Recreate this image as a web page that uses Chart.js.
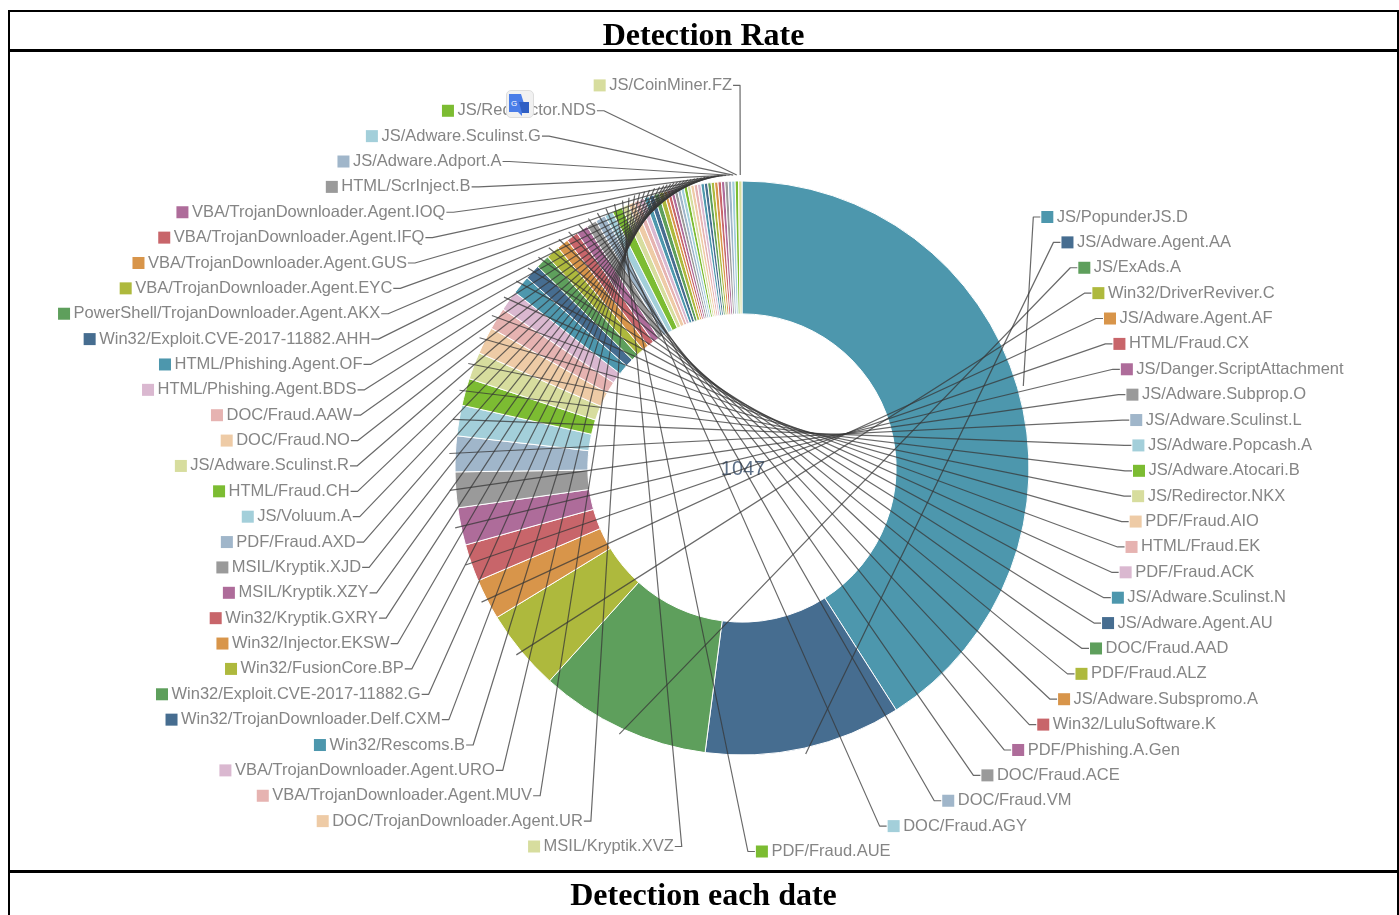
<!DOCTYPE html>
<html>
<head>
<meta charset="utf-8">
<title>Detection Rate</title>
<script src="https://cdn.jsdelivr.net/npm/chart.js@4"></script>
<style>
html,body{margin:0;padding:0;background:#fff;width:1399px;height:915px;overflow:hidden}
#c{position:absolute;left:0;top:0}
.line{position:absolute;background:#000}
.title{position:absolute;left:9px;width:1389px;text-align:center;font:bold 32px "Liberation Serif",serif;color:#000;line-height:38px}
#icon{position:absolute;left:506px;top:90px;width:26px;height:26px;border:1px solid #ddd;border-radius:5px;background:#f1f1f1}
</style>
</head>
<body>
<canvas id="c" width="1399" height="915"></canvas>
<div class="line" style="left:8px;top:10px;width:1391px;height:2px"></div>
<div class="line" style="left:8px;top:49px;width:1391px;height:3px"></div>
<div class="line" style="left:8px;top:870px;width:1391px;height:3px"></div>
<div class="line" style="left:8px;top:10px;width:2px;height:905px"></div>
<div class="line" style="left:1397px;top:10px;width:2px;height:905px"></div>
<div class="title" style="top:15px">Detection Rate</div>
<div class="title" style="top:875px">Detection each date</div>
<div id="icon"><svg width="26" height="26" viewBox="0 0 26 26"><path d="M2 3h12l6 19-5-1v4l-4-4H2z" fill="#4a7de8"/><path d="M12 11h10v11H15z" fill="#2f5fc4"/><text x="4" y="15" font-size="8" fill="#fff" font-family="Liberation Sans">G</text></svg></div>
<script>
const names = [
"JS/PopunderJS.D","JS/Adware.Agent.AA","JS/ExAds.A","Win32/DriverReviver.C","JS/Adware.Agent.AF","HTML/Fraud.CX",
"JS/Danger.ScriptAttachment","JS/Adware.Subprop.O","JS/Adware.Sculinst.L","JS/Adware.Popcash.A","JS/Adware.Atocari.B",
"JS/Redirector.NKX","PDF/Fraud.AIO","HTML/Fraud.EK","PDF/Fraud.ACK","JS/Adware.Sculinst.N","JS/Adware.Agent.AU",
"DOC/Fraud.AAD","PDF/Fraud.ALZ","JS/Adware.Subspromo.A","Win32/LuluSoftware.K","PDF/Phishing.A.Gen","DOC/Fraud.ACE",
"DOC/Fraud.VM","DOC/Fraud.AGY","PDF/Fraud.AUE","MSIL/Kryptik.XVZ","DOC/TrojanDownloader.Agent.UR",
"VBA/TrojanDownloader.Agent.MUV","VBA/TrojanDownloader.Agent.URO","Win32/Rescoms.B","Win32/TrojanDownloader.Delf.CXM",
"Win32/Exploit.CVE-2017-11882.G","Win32/FusionCore.BP","Win32/Injector.EKSW","Win32/Kryptik.GXRY","MSIL/Kryptik.XZY",
"MSIL/Kryptik.XJD","PDF/Fraud.AXD","JS/Voluum.A","HTML/Fraud.CH","JS/Adware.Sculinst.R","DOC/Fraud.NO","DOC/Fraud.AAW",
"HTML/Phishing.Agent.BDS","HTML/Phishing.Agent.OF","Win32/Exploit.CVE-2017-11882.AHH",
"PowerShell/TrojanDownloader.Agent.AKX","VBA/TrojanDownloader.Agent.EYC","VBA/TrojanDownloader.Agent.GUS",
"VBA/TrojanDownloader.Agent.IFQ","VBA/TrojanDownloader.Agent.IOQ","HTML/ScrInject.B","JS/Adware.Adport.A",
"JS/Adware.Sculinst.G","JS/Redirector.NDS","JS/CoinMiner.FZ"
];
const detections = [
429,116,101,48,24,22,22,21,21,18,16,16,16,13,12,11,9,8,8,7,7,7,6,6,5,6,
4,4,3,3,3,3,3,3,2,2,2,2,2,2,
2,2,2,2,2,2,2,2,2,2,2,2,2,2,2,2,2
];
const palette = ["#4d97ad","#466d90","#5e9f5c","#aeb93d","#d8954a","#c8656a","#ae6c9a","#9a9a9a",
"#a0b6ca","#a3cfda","#7cbc32","#d7dd9e","#eecba6","#e6b3b1","#dab8d0"];
const totalLabel = "1047";
const rightCount = 26;

const calloutPlugin = {
  id: "callouts",
  afterDatasetsDraw(chart) {
    const ctx = chart.ctx, arcs = chart.getDatasetMeta(0).data;
    const cx = arcs[0].x, cy = arcs[0].y, outer = arcs[0].outerRadius;
    const b = outer + 96.2, tip = outer + 6, p = 2.05;
    ctx.save();
    // centre total
    ctx.font = '20px "Liberation Sans"';
    ctx.fillStyle = "#5d7088";
    ctx.textAlign = "center"; ctx.textBaseline = "middle";
    ctx.fillText(totalLabel, cx + 1, cy + 1);
    ctx.font = '16.5px "Liberation Sans"';
    ctx.textBaseline = "middle";
    ctx.lineJoin = "round";
    names.forEach((name, i) => {
      const right = i < rightCount;
      const a = outer + (right ? 104 : 106);
      const ry = right ? 216.5 + 25.38 * i : 846 - 25.37 * (i - rightCount);
      const y = ry + 0.5;
      const t = Math.max(0, 1 - Math.pow(Math.abs(ry - cy) / b, p));
      const dx = a * Math.pow(t, 1 / p);
      const x = right ? cx + dx : cx - dx;
      const mid = (arcs[i].startAngle + arcs[i].endAngle) / 2;
      const ex = cx + tip * Math.cos(mid), ey = cy + tip * Math.sin(mid);
      const dir = right ? -1 : 1;
      ctx.beginPath();
      ctx.strokeStyle = "rgba(55,55,55,0.75)";
      ctx.lineWidth = 1.2;
      ctx.moveTo(x + dir * 1, y);
      ctx.lineTo(x + dir * 8, y);
      ctx.lineTo(ex, ey);
      ctx.stroke();
      ctx.fillStyle = "#858585";
      const w = ctx.measureText(name).width;
      if (right) {
        ctx.textAlign = "left";
        ctx.fillText(name, x + 15.5, y);
        ctx.fillStyle = palette[i % palette.length];
        ctx.fillRect(x, y - 6, 12, 12);
      } else {
        ctx.textAlign = "right";
        ctx.fillText(name, x, y);
        ctx.fillStyle = palette[i % palette.length];
        ctx.fillRect(x - w - 15.5, y - 6, 12, 12);
      }
    });
    ctx.restore();
  }
};

new Chart(document.getElementById("c"), {
  type: "doughnut",
  data: {
    labels: names,
    datasets: [{
      data: detections,
      backgroundColor: names.map((_, i) => palette[i % palette.length]),
      borderColor: "#ffffff",
      borderWidth: 1
    }]
  },
  options: {
    responsive: false,
    animation: false,
    radius: 287,
    cutout: "53.7%",
    layout: { padding: { left: 85, top: 21, right: 0, bottom: 0 } },
    plugins: { legend: { display: false }, tooltip: { enabled: false } }
  },
  plugins: [calloutPlugin]
});
</script>
</body>
</html>
